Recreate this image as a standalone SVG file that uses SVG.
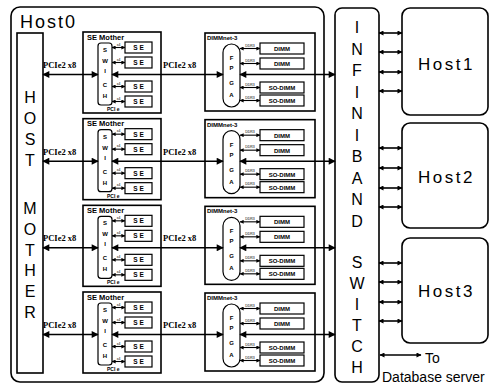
<svg xmlns="http://www.w3.org/2000/svg" width="494" height="386" viewBox="0 0 494 386">
<style>
.box{fill:#fff;stroke:#000;stroke-width:1.6}
.thin{fill:#fff;stroke:#000;stroke-width:1.2}
.big{font-family:"Liberation Sans",Arial,sans-serif;font-size:16px;fill:#000;text-anchor:middle}
.host{font-family:"Liberation Sans",Arial,sans-serif;font-size:17px;fill:#000;letter-spacing:2.5px}
.lbl{font-family:"Liberation Sans",Arial,sans-serif;font-weight:bold;fill:#000}
.pci{font-family:"Liberation Serif","Times New Roman",serif;font-weight:bold;font-size:8.5px;fill:#000}
.tiny{font-family:"Liberation Sans",Arial,sans-serif;font-size:3.5px;fill:#000;text-anchor:middle}
.ln{stroke:#000;stroke-width:1.6;fill:none}
.ls{stroke:#000;stroke-width:1.1;fill:none}
</style>
<defs>
<marker id="ab" viewBox="0 0 10 10" refX="9" refY="5" markerWidth="8" markerHeight="7" markerUnits="userSpaceOnUse" orient="auto-start-reverse"><path d="M0,0 L10,5 L0,10 z"/></marker>
<marker id="am" viewBox="0 0 10 10" refX="9" refY="5" markerWidth="6" markerHeight="5" markerUnits="userSpaceOnUse" orient="auto-start-reverse"><path d="M0,0 L10,5 L0,10 z"/></marker>
<marker id="at" viewBox="0 0 10 10" refX="9" refY="5" markerWidth="4" markerHeight="4" markerUnits="userSpaceOnUse" orient="auto-start-reverse"><path d="M0,0 L10,5 L0,10 z"/></marker>
<g id="serow">
<rect class="box" x="83" y="32" width="78" height="81"/>
<text class="lbl" x="87" y="39.5" font-size="7.5">SE Mother</text>
<rect class="thin" x="98" y="43" width="14" height="62" rx="3"/>
<g class="lbl" font-size="6" text-anchor="middle">
<text x="105" y="52">S</text><text x="105" y="63">W</text><text x="105" y="73">I</text><text x="105" y="87">C</text><text x="105" y="98">H</text>
</g>
<rect class="thin" x="125" y="42" width="27" height="11"/>
<rect class="thin" x="125" y="57" width="27" height="11"/>
<rect class="thin" x="125" y="81" width="27" height="11"/>
<rect class="thin" x="125" y="96" width="27" height="11"/>
<g class="lbl" font-size="6.5" text-anchor="middle">
<text x="138.5" y="50">S E</text><text x="138.5" y="65">S E</text><text x="138.5" y="89">S E</text><text x="138.5" y="104">S E</text>
</g>
<g class="ls" marker-start="url(#at)" marker-end="url(#at)">
<line x1="112" y1="47.5" x2="125" y2="47.5"/><line x1="112" y1="62.5" x2="125" y2="62.5"/><line x1="112" y1="86.5" x2="125" y2="86.5"/><line x1="112" y1="101.5" x2="125" y2="101.5"/>
</g>
<g class="tiny"><text x="118.5" y="45.5">x4</text><text x="118.5" y="60.5">x4</text><text x="118.5" y="84.5">x4</text><text x="118.5" y="99.5">x4</text></g>
<text class="lbl" x="107" y="111" font-size="5">PCI e</text>
</g>
<g id="dnrow">
<rect class="box" x="205" y="33" width="110" height="78"/>
<text class="lbl" x="207" y="40" font-size="6">DIMMnet-3</text>
<rect class="thin" x="223" y="44" width="17" height="63" rx="8.5"/>
<g class="lbl" font-size="6" text-anchor="middle">
<text x="231.5" y="60">F</text><text x="231.5" y="70">P</text><text x="231.5" y="85">G</text><text x="231.5" y="97">A</text>
</g>
<rect class="thin" x="260" y="43" width="44" height="11"/>
<rect class="thin" x="260" y="58" width="44" height="11"/>
<rect class="thin" x="260" y="82" width="44" height="11"/>
<rect class="thin" x="260" y="95" width="44" height="11"/>
<g class="lbl" font-size="6" text-anchor="middle">
<text x="282" y="51">DIMM</text><text x="282" y="66">DIMM</text><text x="282" y="90">SO-DIMM</text><text x="282" y="103">SO-DIMM</text>
</g>
<g class="ls" marker-start="url(#at)" marker-end="url(#at)">
<line x1="240" y1="48.5" x2="260" y2="48.5"/><line x1="240" y1="63.5" x2="260" y2="63.5"/><line x1="240" y1="87.5" x2="260" y2="87.5"/><line x1="240" y1="100.5" x2="260" y2="100.5"/>
</g>
<g class="tiny"><text x="250" y="46.5">DDR3</text><text x="250" y="61.5">DDR3</text><text x="250" y="85.5">DDR3</text><text x="250" y="98.5">DDR3</text></g>
</g>
</defs>

<g id="host0">
<rect class="box" x="11" y="7" width="313" height="375" rx="9"/>
<text x="20" y="28" font-family="Liberation Sans,Arial,sans-serif" font-size="18" letter-spacing="2">Host0</text>
</g>
<g id="host-mother">
<rect class="box" x="17" y="33" width="26" height="340"/>
<g class="big">
<text x="30" y="103">H</text><text x="30" y="124">O</text><text x="30" y="145">S</text><text x="30" y="166">T</text>
<text x="30" y="214">M</text><text x="30" y="235">O</text><text x="30" y="256">T</text><text x="30" y="276">H</text><text x="30" y="297">E</text><text x="30" y="318">R</text>
</g>
</g>
<g id="se-mother-1"><use href="#serow"/></g>
<g id="se-mother-2"><use href="#serow" transform="translate(0,86.67)"/></g>
<g id="se-mother-3"><use href="#serow" transform="translate(0,173.33)"/></g>
<g id="se-mother-4"><use href="#serow" transform="translate(0,260)"/></g>
<g id="dimmnet-1"><use href="#dnrow"/></g>
<g id="dimmnet-2"><use href="#dnrow" transform="translate(0,86.67)"/></g>
<g id="dimmnet-3"><use href="#dnrow" transform="translate(0,173.33)"/></g>
<g id="dimmnet-4"><use href="#dnrow" transform="translate(0,260)"/></g>

<g id="infiniband-switch">
<rect class="box" x="335" y="8" width="44" height="374" rx="7"/>
<g class="big">
<text x="357" y="33">I</text><text x="357" y="55">N</text><text x="357" y="76">F</text><text x="357" y="98">I</text><text x="357" y="119">N</text><text x="357" y="141">I</text><text x="357" y="162">B</text><text x="357" y="184">A</text><text x="357" y="205">N</text><text x="357" y="227">D</text>
<text x="357" y="268">S</text><text x="357" y="289">W</text><text x="357" y="310">I</text><text x="357" y="331">T</text><text x="357" y="352">C</text><text x="357" y="373">H</text>
</g>
</g>
<g id="host1"><rect class="box" x="402" y="8" width="86" height="107" rx="8"/><text class="host" x="418" y="70">Host1</text></g>
<g id="host2"><rect class="box" x="402" y="123" width="86" height="105" rx="8"/><text class="host" x="418" y="183">Host2</text></g>
<g id="host3"><rect class="box" x="402" y="238" width="86" height="105" rx="8"/><text class="host" x="418" y="297">Host3</text></g>

<g id="connectors">
<g class="ln" marker-start="url(#ab)" marker-end="url(#ab)">
<line x1="43" y1="74.5" x2="98" y2="74.5"/><line x1="112" y1="74.5" x2="223" y2="74.5"/><line x1="240" y1="74.5" x2="335" y2="74.5"/>
<line x1="43" y1="161.2" x2="98" y2="161.2"/><line x1="112" y1="161.2" x2="223" y2="161.2"/><line x1="240" y1="161.2" x2="335" y2="161.2"/>
<line x1="43" y1="247.8" x2="98" y2="247.8"/><line x1="112" y1="247.8" x2="223" y2="247.8"/><line x1="240" y1="247.8" x2="335" y2="247.8"/>
<line x1="43" y1="334.5" x2="98" y2="334.5"/><line x1="112" y1="334.5" x2="223" y2="334.5"/><line x1="240" y1="334.5" x2="335" y2="334.5"/>
</g>
<g class="pci">
<text x="43" y="68">PCIe2 x8</text><text x="163" y="68">PCIe2 x8</text>
<text x="43" y="154.7">PCIe2 x8</text><text x="163" y="154.7">PCIe2 x8</text>
<text x="43" y="241.3">PCIe2 x8</text><text x="163" y="241.3">PCIe2 x8</text>
<text x="43" y="328">PCIe2 x8</text><text x="163" y="328">PCIe2 x8</text>
</g>
<g class="ln" marker-start="url(#am)" marker-end="url(#am)">
<line x1="379" y1="33" x2="402" y2="33"/><line x1="379" y1="52" x2="402" y2="52"/><line x1="379" y1="72" x2="402" y2="72"/><line x1="379" y1="91" x2="402" y2="91"/>
<line x1="379" y1="148" x2="402" y2="148"/><line x1="379" y1="168" x2="402" y2="168"/><line x1="379" y1="188" x2="402" y2="188"/><line x1="379" y1="207" x2="402" y2="207"/>
<line x1="379" y1="263" x2="402" y2="263"/><line x1="379" y1="282" x2="402" y2="282"/><line x1="379" y1="302" x2="402" y2="302"/><line x1="379" y1="321" x2="402" y2="321"/>
<line x1="380" y1="355" x2="421" y2="355"/>
</g>
<text x="425" y="363" font-family="Liberation Sans,Arial,sans-serif" font-size="14">To</text>
<text x="382" y="382" font-family="Liberation Sans,Arial,sans-serif" font-size="14">Database server</text>
</g>
</svg>
